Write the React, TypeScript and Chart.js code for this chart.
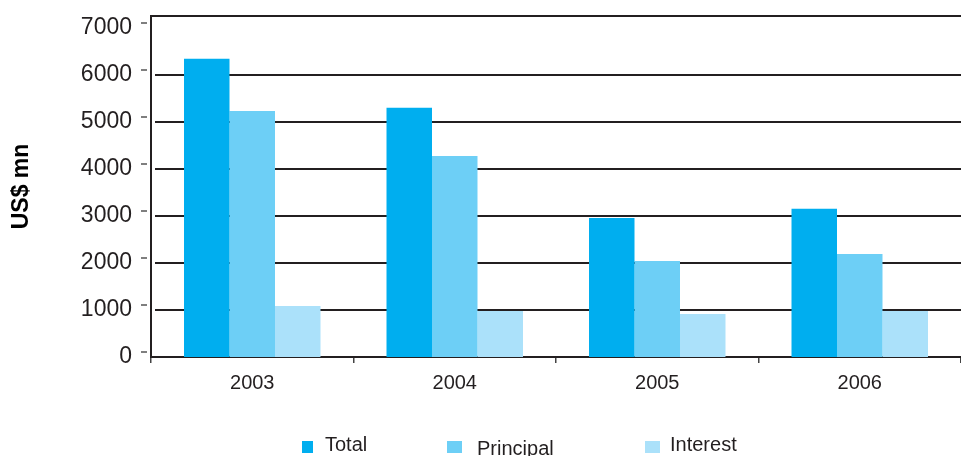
import React, { useEffect, useRef } from 'react';
import { Chart, registerables } from 'chart.js';

Chart.register(...registerables);

// ---- data ----
const categories = ['2003', '2004', '2005', '2006'];
const seriesNames = ['Total', 'Principal', 'Interest'];
const totalValues = [6340, 5300, 2955, 3150];
const principalValues = [5230, 4275, 2040, 2190];
const interestValues = [1085, 980, 915, 980];
const yTickValues = [0, 1000, 2000, 3000, 4000, 5000, 6000, 7000];
const yAxisTitle = 'US$ mn';
const yMin = 0;
const yMax = 7250;

// ---- styles ----
const seriesColors = ['#00AEEF', '#6DCFF6', '#ABE1FA'];
const INK = '#231f20';
const FONT = "'Liberation Sans', Arial, Helvetica, sans-serif";

// legend layout (px)
const legendBoxX = [302, 447, 645];
const legendBoxW = [11, 15, 15];
const legendTextX = [325, 477, 670];
const legendTextY = [451, 455, 451];

const decorPlugin = {
  id: 'decor',
  beforeDatasetsDraw(chart: any) {
    const { ctx, chartArea } = chart;
    const y = chart.scales.y;
    ctx.save();
    ctx.strokeStyle = INK;
    ctx.lineWidth = 2;
    // gridlines (with small gap after the axis), not at 0 or top tick
    y.ticks.forEach((t: any, i: number) => {
      if (i === 0 || i === y.ticks.length - 1) return;
      const py = Math.round(y.getPixelForValue(t.value));
      ctx.beginPath();
      ctx.moveTo(chartArea.left + 4, py);
      ctx.lineTo(chartArea.right, py);
      ctx.stroke();
    });
    // top frame line
    ctx.beginPath();
    ctx.moveTo(chartArea.left - 1, chartArea.top);
    ctx.lineTo(chartArea.right, chartArea.top);
    ctx.stroke();
    // small tick marks left of the axis
    ctx.strokeStyle = '#555';
    ctx.lineWidth = 1.5;
    y.ticks.forEach((t: any) => {
      const py = Math.round(y.getPixelForValue(t.value)) - 5;
      ctx.beginPath();
      ctx.moveTo(chartArea.left - 10, py);
      ctx.lineTo(chartArea.left - 4, py);
      ctx.stroke();
    });
    ctx.restore();
  },
  afterDraw(chart: any) {
    const { ctx } = chart;
    ctx.save();
    ctx.font = `20px ${FONT}`;
    ctx.textBaseline = 'alphabetic';
    ctx.textAlign = 'left';
    chart.data.datasets.forEach((ds: any, i: number) => {
      ctx.fillStyle = ds.backgroundColor;
      ctx.fillRect(legendBoxX[i], 441, legendBoxW[i], 12);
      ctx.fillStyle = INK;
      ctx.fillText(ds.label, legendTextX[i], legendTextY[i]);
    });
    ctx.restore();
  },
};

export default function App() {
  const ref = useRef<HTMLCanvasElement>(null);
  useEffect(() => {
    const valuesList = [totalValues, principalValues, interestValues];
    const chart = new Chart(ref.current as HTMLCanvasElement, {
      type: 'bar',
      data: {
        labels: categories,
        datasets: seriesNames.map((name, i) => ({
          label: name,
          data: valuesList[i],
          backgroundColor: seriesColors[i],
          borderWidth: 0,
          categoryPercentage: 0.674,
          barPercentage: 1.0,
        })),
      },
      options: {
        animation: false,
        responsive: true,
        maintainAspectRatio: false,
        layout: { padding: { top: 16, right: 0, bottom: 53, left: 0 } },
        plugins: {
          legend: { display: false },
          tooltip: { enabled: false },
        },
        scales: {
          x: {
            grid: {
              display: true,
              drawOnChartArea: false,
              drawTicks: true,
              tickLength: 6,
              color: '#444',
              lineWidth: 1.5,
            },
            border: { display: true, color: INK, width: 2 },
            ticks: {
              color: INK,
              font: { family: FONT, size: 20 },
              padding: 8,
            },
          },
          y: {
            min: yMin,
            max: yMax,
            afterBuildTicks(scale: any) {
              scale.ticks = yTickValues.map((v) => ({ value: v }));
            },
            afterFit(scale: any) {
              scale.width = 151;
              scale.paddingTop = 0;
              scale.paddingBottom = 0;
            },
            grid: { display: false, drawTicks: false },
            border: { display: true, color: INK, width: 2 },
            ticks: {
              color: INK,
              font: { family: FONT, size: 23 },
              padding: 19,
              callback: (v: any) => String(v),
            },
            title: {
              display: true,
              text: yAxisTitle,
              color: '#000',
              font: { family: FONT, size: 23, weight: 'bold' },
              padding: { top: 8, bottom: 0 },
            },
          },
        },
      },
      plugins: [decorPlugin],
    });
    return () => chart.destroy();
  }, []);
  return (
    <div style={{ position: 'fixed', left: 0, top: 0, width: 961, height: 456, background: '#fff' }}>
      <canvas ref={ref} />
    </div>
  );
}
